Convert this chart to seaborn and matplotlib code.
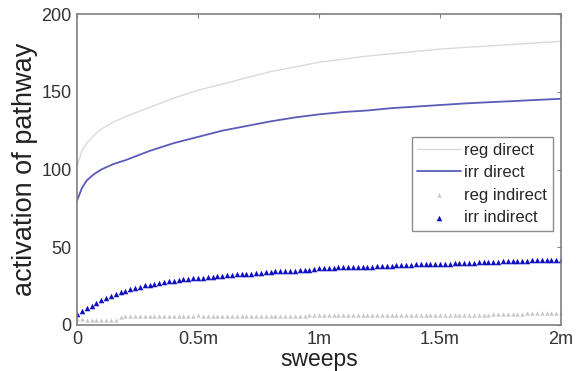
import numpy as np
import seaborn as sns
import matplotlib.pyplot as plt

# sweeps in millions
line_sweeps = [0, 0.02, 0.04, 0.07, 0.1, 0.15, 0.2, 0.3, 0.4, 0.5, 0.6, 0.7, 0.8,
               0.9, 1.0, 1.1, 1.2, 1.3, 1.4, 1.5, 1.6, 1.7, 1.8, 1.9, 2.0]
reg_direct = [102, 112, 117, 122, 126, 130.5, 134, 140, 146, 151, 155, 159, 163,
              166, 169, 171, 173, 174.5, 176, 177.5, 178.5, 179.5, 180.5, 181.5, 182.5]
irr_direct = [80, 88, 93, 97, 100, 103.5, 106, 112, 117, 121, 125, 128, 131,
              133.5, 135.5, 137, 138, 139.5, 140.5, 141.5, 142.5, 143.3, 144, 144.8, 145.5]

# indirect pathways sampled every 0.02m sweeps (101 samples)
marker_sweeps = [round(i * 0.02, 2) for i in range(101)]
irr_indirect = [7, 9, 11, 12.5, 14, 16, 17.5, 18.5, 20, 21,
                22, 23, 24, 24.5, 25.5, 26, 26.5, 27, 27.5, 28,
                28.5, 29, 29.5, 29.5, 30, 30.5, 30.5, 31, 31, 31.5,
                31.5, 32, 32, 32.5, 32.5, 33, 33, 33.5, 33.5, 34,
                34, 34.5, 34.5, 34.5, 35, 35, 35.5, 35.5, 35.5, 36,
                36.5, 36.5, 36.5, 36.5, 37, 37, 37, 37, 37.5, 37.5,
                37.5, 37.5, 38, 38, 38, 38, 38.5, 38.5, 38.5, 38.5,
                39, 39, 39, 39, 39.5, 39.5, 39.5, 39.5, 40, 40,
                40, 40, 40, 40.5, 40.5, 40.5, 40.5, 40.5, 41, 41,
                41, 41, 41, 41, 41.5, 41.5, 41.5, 41.5, 41.5, 41.5,
                41.5]
reg_indirect = [4, 4, 3.5, 3, 3, 3, 3, 3, 3.5, 5,
                5.5, 5.5, 6, 6, 6, 6, 6, 6, 6, 6,
                6, 6, 6, 6, 6, 6.5, 6, 6, 6, 6,
                6, 6, 6, 6, 6, 6, 6, 6, 6, 6,
                6, 6, 6, 6, 6, 6, 6, 6, 6.5, 6.5,
                6.5, 6.5, 6.5, 6.5, 6.5, 6.5, 6.5, 6.5, 6.5, 6.5,
                6.5, 6.5, 6.5, 6.5, 6.5, 6.5, 6.5, 6.5, 6.5, 6.5,
                6.5, 6.5, 6.5, 6.5, 6.5, 6.5, 6.5, 6.5, 6.5, 6.5,
                6.5, 6.5, 6.5, 6.5, 6.5, 6.5, 7, 7, 7, 7,
                7, 7, 7, 7.5, 7.5, 7.5, 7.5, 7.5, 7.5, 7.5,
                7.5]

xticks = [0, 0.5, 1, 1.5, 2]
xtick_labels = ["0", "0.5m", "1m", "1.5m", "2m"]
yticks = [0, 50, 100, 150, 200]

sns.set_style("white")
plt.rcParams['font.family'] = ['Liberation Sans', 'DejaVu Sans']

fig = plt.figure(figsize=(5.79, 3.71), dpi=100)
ax = fig.add_axes([0.133, 0.124, 0.836, 0.838])

sns.lineplot(x=line_sweeps, y=reg_direct, color="#dadada", linewidth=1.0,
             label="reg direct", ax=ax)
sns.lineplot(x=line_sweeps, y=irr_direct, color="#5b5bb8", linewidth=1.3,
             label="irr direct", ax=ax)
sns.scatterplot(x=marker_sweeps, y=reg_indirect, color="#c8c8c8", marker="^",
                s=10, linewidth=0, label="reg indirect", ax=ax)
sns.scatterplot(x=marker_sweeps, y=irr_indirect, color="#1010c0", marker="^",
                s=16, linewidth=0, label="irr indirect", ax=ax)

ax.set_xlim(0, 2)
ax.set_ylim(0, 200)
ax.set_xticks(xticks)
ax.set_xticklabels(xtick_labels)
ax.set_yticks(yticks)
ax.tick_params(direction="in", length=3, top=True, right=True, labelsize=13,
               color="#808080", labelcolor="#333333", pad=4)
for sp in ax.spines.values():
    sp.set_color("#808080")
    sp.set_linewidth(1.2)

ax.set_xlabel("sweeps", fontsize=16.5, color="#222222", labelpad=0)
ax.set_ylabel("activation of pathway", fontsize=19.5, color="#222222", labelpad=2)

leg = ax.legend(loc="upper right", bbox_to_anchor=(0.983, 0.605), fontsize=12,
                frameon=True, fancybox=False, borderpad=0.35, labelspacing=0.45,
                handlelength=2.6, handletextpad=0.2, borderaxespad=0)
leg.get_frame().set_edgecolor("#707070")
leg.get_frame().set_linewidth(1.0)

fig.savefig("out.png", dpi=100)
